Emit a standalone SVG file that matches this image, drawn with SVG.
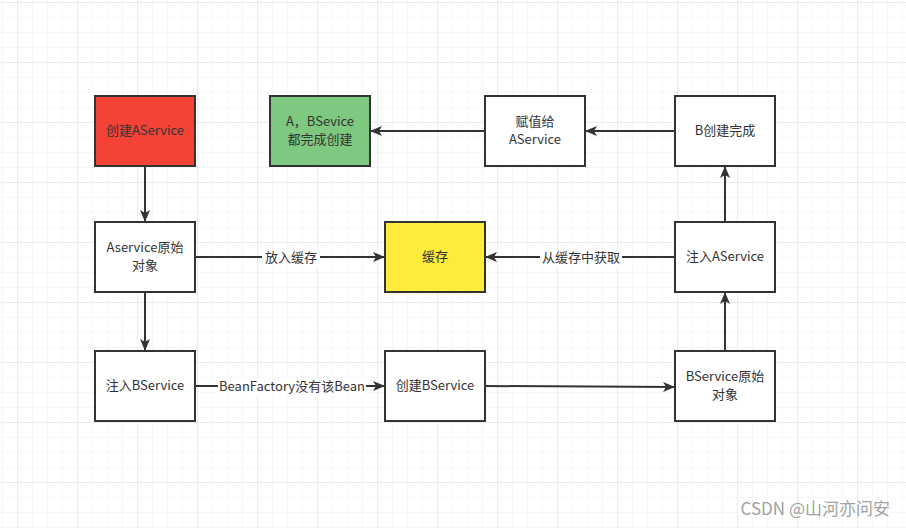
<svg xmlns="http://www.w3.org/2000/svg" width="906" height="528" viewBox="0 0 906 528">
<defs>
<pattern id="minor" x="2" y="2" width="15" height="15" patternUnits="userSpaceOnUse">
<path d="M0 0H15M0 0V15" fill="none" stroke="#efefef" stroke-width="1"/>
</pattern>
<pattern id="major" x="17" y="2" width="60" height="60" patternUnits="userSpaceOnUse">
<path d="M0 0H60M0 0V60" fill="none" stroke="#e2e2e2" stroke-width="1"/>
</pattern>
<marker id="arr" viewBox="0 0 12 10" refX="12" refY="5" markerWidth="12" markerHeight="10" markerUnits="userSpaceOnUse" orient="auto">
<path d="M0 0L12 5L0 10L3 5Z" fill="#333"/>
</marker>
<style>
.box{stroke:#333;stroke-width:2}
.t{font-family:"Microsoft YaHei","Noto Sans CJK SC","Noto Sans",sans-serif;font-size:13px;fill:#333;text-anchor:middle}
.c{fill:none;stroke:#333;stroke-width:2;marker-end:url(#arr)}
.lbl{fill:#fff}
</style>
</defs>
<rect width="906" height="528" fill="#fff"/>
<rect width="906" height="528" fill="url(#minor)"/>
<rect width="906" height="528" fill="url(#major)"/>

<g id="connectors">
<path class="c" d="M145 166V222"/>
<path class="c" d="M145 292V351"/>
<path class="c" d="M195 257H385"/>
<path class="c" d="M675 257H485"/>
<path class="c" d="M195 386H385"/>
<path class="c" d="M485 386L675 387"/>
<path class="c" d="M725 351V292"/>
<path class="c" d="M725 222V166"/>
<path class="c" d="M675 131H585"/>
<path class="c" d="M485 131H370"/>
<rect class="lbl" x="262" y="249" width="58" height="18"/>
<text class="t" x="291" y="262">放入缓存</text>
<rect class="lbl" x="540" y="249" width="82" height="18"/>
<text class="t" x="581" y="262">从缓存中获取</text>
<rect class="lbl" x="218" y="378" width="148" height="18"/>
<text class="t" x="292" y="391">BeanFactory没有该Bean</text>
</g>

<g id="n-createA"><rect class="box" x="95" y="96" width="100" height="70" fill="#f44336"/><text class="t" x="145" y="135">创建AService</text></g>
<g id="n-done"><rect class="box" x="270" y="96" width="100" height="70" fill="#7fc87f"/><text class="t" x="320" y="126">A，BSevice</text><text class="t" x="320" y="144">都完成创建</text></g>
<g id="n-assign"><rect class="box" x="485" y="96" width="100" height="70" fill="#fff"/><text class="t" x="535" y="126">赋值给</text><text class="t" x="535" y="144">AService</text></g>
<g id="n-bdone"><rect class="box" x="675" y="96" width="100" height="70" fill="#fff"/><text class="t" x="725" y="135">B创建完成</text></g>
<g id="n-araw"><rect class="box" x="95" y="222" width="100" height="70" fill="#fff"/><text class="t" x="145" y="252">Aservice原始</text><text class="t" x="145" y="270">对象</text></g>
<g id="n-cache"><rect class="box" x="385" y="222" width="100" height="70" fill="#ffeb3b"/><text class="t" x="435" y="261">缓存</text></g>
<g id="n-injectA"><rect class="box" x="675" y="222" width="100" height="70" fill="#fff"/><text class="t" x="725" y="261">注入AService</text></g>
<g id="n-injectB"><rect class="box" x="95" y="351" width="100" height="70" fill="#fff"/><text class="t" x="145" y="390">注入BService</text></g>
<g id="n-createB"><rect class="box" x="385" y="351" width="100" height="70" fill="#fff"/><text class="t" x="435" y="390">创建BService</text></g>
<g id="n-braw"><rect class="box" x="675" y="351" width="100" height="70" fill="#fff"/><text class="t" x="725" y="381">BService原始</text><text class="t" x="725" y="399">对象</text></g>

<text x="890" y="515" font-family="Microsoft YaHei,'Noto Sans CJK SC',sans-serif" font-size="17" fill="#888" fill-opacity="0.8" text-anchor="end">CSDN @山河亦问安</text>
</svg>
